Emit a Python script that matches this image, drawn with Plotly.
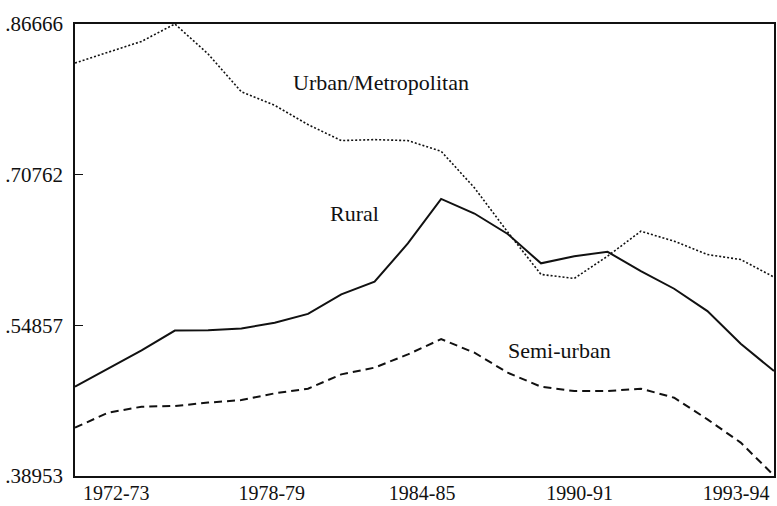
import plotly.graph_objects as go

periods = list(range(22))
urban = [0.8255, 0.8371, 0.8483, 0.8667, 0.8350, 0.7950, 0.7808, 0.7605, 0.7436, 0.7446,
         0.7436, 0.7323, 0.6937, 0.6470, 0.6023, 0.5981, 0.6216, 0.6479, 0.6374, 0.6233,
         0.6180, 0.5995]
rural = [0.4838, 0.5026, 0.5222, 0.5430, 0.5435, 0.5453, 0.5513, 0.5606, 0.5812, 0.5946,
         0.6350, 0.6820, 0.6666, 0.6450, 0.6140, 0.6216, 0.6262, 0.6058, 0.5872, 0.5636,
         0.5292, 0.5003]
semi_urban = [0.4406, 0.4564, 0.4627, 0.4634, 0.4670, 0.4697, 0.4768, 0.4817, 0.4968, 0.5039,
              0.5179, 0.5340, 0.5197, 0.4986, 0.4838, 0.4792, 0.4792, 0.4817, 0.4722, 0.4493,
              0.4248, 0.3900]

x_tick_labels = ["1972-73", "1978-79", "1984-85", "1990-91", "1993-94"]
y_tick_values = [0.38953, 0.54857, 0.70762, 0.86666]
y_tick_labels = [".38953", ".54857", ".70762", ".86666"]

# layout: label positions along the index axis
x_tick_pos = [1.24, 5.91, 10.43, 15.16, 19.86]

FONT = "Liberation Serif, Times New Roman, serif"

fig = go.Figure()
fig.add_trace(go.Scatter(x=periods, y=urban, mode="lines",
                         line=dict(color="#111", width=1.6, dash="2px,2px"),
                         name="Urban/Metropolitan", showlegend=False))
fig.add_trace(go.Scatter(x=periods, y=rural, mode="lines",
                         line=dict(color="#111", width=2),
                         name="Rural", showlegend=False))
fig.add_trace(go.Scatter(x=periods, y=semi_urban, mode="lines",
                         line=dict(color="#111", width=2, dash="8px,5px"),
                         name="Semi-urban", showlegend=False))

annots = [("Urban/Metropolitan", 9.2, 0.8048), ("Rural", 8.39, 0.6666), ("Semi-urban", 14.55, 0.5221)]
for txt, ax, ay in annots:
    fig.add_annotation(x=ax, y=ay, text=txt, showarrow=False,
                       font=dict(family=FONT, size=22, color="#111"))

fig.update_layout(
    width=777, height=506,
    margin=dict(l=75, r=3, t=24, b=30, autoexpand=False),
    paper_bgcolor="white", plot_bgcolor="white",
    font=dict(family=FONT, size=21, color="#111"),
    showlegend=False,
)
fig.update_xaxes(range=[0, 21], tickvals=x_tick_pos, ticktext=x_tick_labels,
                 showgrid=False, zeroline=False, ticks="", ticklen=0,
                 tickfont=dict(size=20), automargin=False,
                 showline=True, mirror=True, linecolor="#111", linewidth=1.5,
                 ticklabelstandoff=-2)
fig.update_yaxes(range=[0.38953, 0.86666], tickvals=y_tick_values, ticktext=y_tick_labels,
                 showgrid=False, zeroline=False, ticks="inside", ticklen=8, tickcolor="#111",
                 tickwidth=1.2, automargin=False,
                 showline=True, mirror=True, linecolor="#111", linewidth=1.5,
                 ticklabelstandoff=6)

fig.write_html("out.html", config={"displayModeBar": False},
               post_script="document.body.style.margin='0';document.body.style.overflow='hidden';")
